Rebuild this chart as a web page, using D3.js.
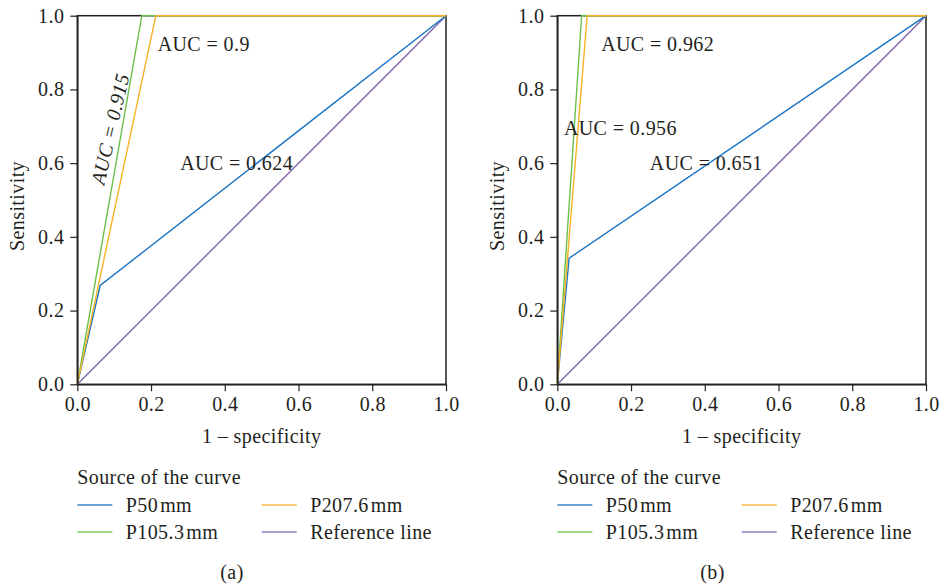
<!DOCTYPE html>
<html>
<head>
<meta charset="utf-8">
<script src="https://cdn.jsdelivr.net/npm/d3@7"></script>
<style>
  html, body { margin: 0; padding: 0; background: #fff; }
  svg text { font-family: "Liberation Serif", "Times New Roman", serif; fill: #231f20; letter-spacing: 0.4px; }
</style>
</head>
<body>
<svg id="chart" width="941" height="586"></svg>
<script>
// ---------- data ----------
const tickValues = [0, 0.2, 0.4, 0.6, 0.8, 1.0];
const seriesNames = ["P50", "P105.3", "P207.6", "Reference line"];
const seriesUnits = ["mm", "mm", "mm", ""];
const panelLabels = ["(a)", "(b)"];

// Panel (a): ROC points (1 - specificity, sensitivity)
const a_p50_fpr   = [0, 0.062, 1];
const a_p50_tpr   = [0, 0.268, 1];
const a_p105_fpr  = [0, 0.175, 1];
const a_p105_tpr  = [0, 1, 1];
const a_p207_fpr  = [0, 0.213, 1];
const a_p207_tpr  = [0, 1, 1];

// Panel (b)
const b_p50_fpr   = [0, 0.032, 1];
const b_p50_tpr   = [0, 0.342, 1];
const b_p105_fpr  = [0, 0.066, 1];
const b_p105_tpr  = [0, 1, 1];
const b_p207_fpr  = [0, 0.081, 1];
const b_p207_tpr  = [0, 1, 1];

const ref_fpr = [0, 1];
const ref_tpr = [0, 1];

// AUC annotations: text, x, y (data units), rotation
const a_aucText = ["AUC = 0.624", "AUC = 0.915", "AUC = 0.9"];
const a_aucX    = [0.279, 0.089, 0.218];
const a_aucY    = [0.581, 0.693, 0.905];
const a_aucRot  = [0, -77, 0];
const b_aucText = ["AUC = 0.651", "AUC = 0.956", "AUC = 0.962"];
const b_aucX    = [0.251, 0.018, 0.119];
const b_aucY    = [0.581, 0.676, 0.905];
const b_aucRot  = [0, 0, 0];

// ---------- styles ----------
const colors = ["#1a74c4", "#6cc04a", "#f7b226", "#7f66b0"];
const FS = 20;

const svg = d3.select("#chart");

const panels = [
  {
    x0: 77.3, label: panelLabels[0], labelX: 232,
    series: [
      {fpr: ref_fpr, tpr: ref_tpr, c: 3},
      {fpr: a_p50_fpr, tpr: a_p50_tpr, c: 0},
      {fpr: a_p105_fpr, tpr: a_p105_tpr, c: 1},
      {fpr: a_p207_fpr, tpr: a_p207_tpr, c: 2}
    ],
    ann: a_aucText.map((t, i) => ({t, x: a_aucX[i], y: a_aucY[i], r: a_aucRot[i]}))
  },
  {
    x0: 557.3, label: panelLabels[1], labelX: 712.5,
    series: [
      {fpr: ref_fpr, tpr: ref_tpr, c: 3},
      {fpr: b_p50_fpr, tpr: b_p50_tpr, c: 0},
      {fpr: b_p105_fpr, tpr: b_p105_tpr, c: 1},
      {fpr: b_p207_fpr, tpr: b_p207_tpr, c: 2}
    ],
    ann: b_aucText.map((t, i) => ({t, x: b_aucX[i], y: b_aucY[i], r: b_aucRot[i]}))
  }
];

const W = 368.7, yTop = 15.7, yBot = 384.3;

panels.forEach(p => {
  const x = d3.scaleLinear().domain([0, 1]).range([p.x0, p.x0 + W]);
  const y = d3.scaleLinear().domain([0, 1]).range([yBot, yTop]);
  const g = svg.append("g");

  // frame
  g.append("rect")
    .attr("x", x(0)).attr("y", y(1))
    .attr("width", x(1) - x(0)).attr("height", y(0) - y(1))
    .attr("fill", "none").attr("stroke", "#231f20").attr("stroke-width", 1.5);

  // lines
  const line = d3.line().x(d => x(d[0])).y(d => y(d[1]));
  p.series.forEach(s => {
    const pts = s.fpr.map((v, i) => [v, s.tpr[i]]);
    g.append("path").attr("d", line(pts))
      .attr("fill", "none").attr("stroke", colors[s.c]).attr("stroke-width", 1.4);
  });

  // axes
  const xAxis = d3.axisBottom(x).tickValues(tickValues).tickFormat(d3.format(".1f"))
    .tickSizeInner(7).tickSizeOuter(0).tickPadding(6);
  const yAxis = d3.axisLeft(y).tickValues(tickValues).tickFormat(d3.format(".1f"))
    .tickSizeInner(7).tickSizeOuter(0).tickPadding(6);
  const gx = g.append("g").attr("transform", `translate(0,${yBot})`).call(xAxis);
  const gy = g.append("g").attr("transform", `translate(${p.x0},0)`).call(yAxis);
  [gx, gy].forEach(a => {
    a.selectAll("path.domain").attr("stroke", "#231f20").attr("stroke-width", 1.5);
    a.selectAll(".tick line").attr("stroke", "#231f20").attr("stroke-width", 1.2);
    a.selectAll(".tick text").attr("font-size", FS).attr("font-family", "Liberation Serif").attr("fill", "#231f20");
  });

  // axis titles
  g.append("text").attr("x", (x(0) + x(1)) / 2).attr("y", 443)
    .attr("text-anchor", "middle").attr("font-size", FS).text("1 \u2013 specificity");
  g.append("text")
    .attr("transform", `translate(${p.x0 - 53},${(yTop + yBot) / 2 + 6}) rotate(-90)`)
    .attr("text-anchor", "middle").attr("font-size", FS).text("Sensitivity");

  // annotations
  p.ann.forEach(a => {
    const t = g.append("text").attr("font-size", FS).text(a.t);
    if (a.r !== 0) {
      t.attr("transform", `translate(${x(a.x)},${y(a.y)}) rotate(${a.r})`)
       .attr("text-anchor", "middle").attr("dominant-baseline", "central")
       .attr("font-style", "italic");
    } else {
      t.attr("x", x(a.x)).attr("y", y(a.y));
    }
  });

  // legend
  const lg = g.append("g");
  lg.append("text").attr("x", p.x0).attr("y", 484).attr("font-size", FS).text("Source of the curve");
  const order = [0, 2, 1, 3];
  order.forEach((si, k) => {
    const col = k % 2, row = Math.floor(k / 2);
    const lx = p.x0 + col * 184.4;
    const ly = 505 + row * 27;
    lg.append("line").attr("x1", lx).attr("x2", lx + 35).attr("y1", ly).attr("y2", ly)
      .attr("stroke", colors[si]).attr("stroke-width", 1.5).attr("opacity", 0.85);
    const t = lg.append("text").attr("x", lx + 48.5).attr("y", ly + 6.5).attr("font-size", FS);
    t.append("tspan").text(seriesNames[si]);
    if (seriesUnits[si]) t.append("tspan").attr("dx", 2).text(seriesUnits[si]);
  });

  // panel label
  g.append("text").attr("x", p.labelX).attr("y", 579).attr("text-anchor", "middle")
    .attr("font-size", FS).text(p.label);
});
</script>
</body>
</html>
